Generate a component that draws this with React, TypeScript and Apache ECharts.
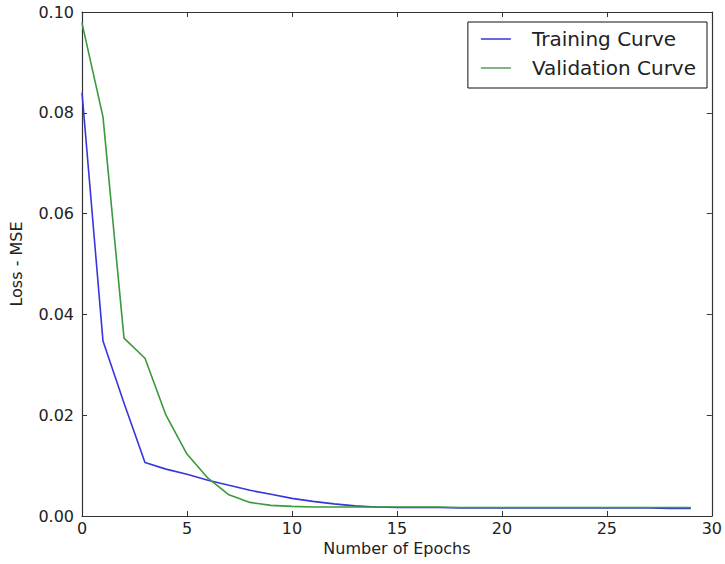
import React, { useEffect, useRef } from "react";
import * as echarts from "echarts";

const epochs = [0,1,2,3,4,5,6,7,8,9,10,11,12,13,14,15,16,17,18,19,20,21,22,23,24,25,26,27,28,29];
const trainingLoss = [0.0840,0.0347,0.0224,0.0106,0.0093,0.0083,0.0071,0.0061,0.0051,0.0043,0.0035,0.0029,0.0024,0.0020,0.0018,0.0017,0.0017,0.0017,0.0016,0.0016,0.0016,0.0016,0.0016,0.0016,0.0016,0.0016,0.0016,0.0016,0.0015,0.0015];
const validationLoss = [0.0978,0.0792,0.0353,0.0313,0.0200,0.0123,0.0075,0.0042,0.0027,0.0021,0.0019,0.0018,0.0018,0.0018,0.0018,0.0018,0.0018,0.0018,0.0017,0.0017,0.0017,0.0017,0.0017,0.0017,0.0017,0.0017,0.0017,0.0017,0.0017,0.0017];
const seriesNames = ["Training Curve", "Validation Curve"];
const xTicks = { min: 0, max: 30, interval: 5 };
const yTicks = { min: 0, max: 0.1, interval: 0.02 };

const FONT = "DejaVu Sans";
const TEXT = "#222";
const AXIS = "#333";

export default function App() {
  const ref = useRef<HTMLDivElement>(null);
  useEffect(() => {
    if (!ref.current) return;
    const chart = echarts.init(ref.current, undefined, { renderer: "svg" });
    const tick = { show: true, inside: true, length: 5, lineStyle: { color: AXIS, width: 1 } };
    const line = { show: true, onZero: false, lineStyle: { color: AXIS, width: 1.2 } };
    chart.setOption({
      animation: false,
      backgroundColor: "#fff",
      grid: { left: 79, right: 10, top: 12, bottom: 48, containLabel: false },
      legend: {
        data: seriesNames,
        orient: "vertical",
        right: 18,
        top: 22,
        icon: "rect",
        itemWidth: 30,
        itemHeight: 1.5,
        itemGap: 9,
        borderColor: "#111",
        borderWidth: 1,
        borderRadius: 0,
        padding: [7, 11, 10, 13],
        textStyle: { fontFamily: FONT, fontSize: 20, color: TEXT, padding: [0, 0, 0, 16] },
      },
      xAxis: [
        {
          type: "value",
          min: xTicks.min,
          max: xTicks.max,
          interval: xTicks.interval,
          name: "Number of Epochs",
          nameLocation: "middle",
          nameGap: 24,
          nameTextStyle: { fontFamily: FONT, fontSize: 16, color: TEXT },
          axisLine: line,
          axisTick: tick,
          axisLabel: { fontFamily: FONT, fontSize: 16, color: TEXT, margin: 4 },
          splitLine: { show: false },
        },
        {
          type: "value",
          position: "top",
          min: xTicks.min,
          max: xTicks.max,
          interval: xTicks.interval,
          axisLine: line,
          axisTick: tick,
          axisLabel: { show: false },
          splitLine: { show: false },
        },
      ],
      yAxis: [
        {
          type: "value",
          min: yTicks.min,
          max: yTicks.max,
          interval: yTicks.interval,
          name: "Loss - MSE",
          nameLocation: "middle",
          nameGap: 58,
          nameTextStyle: { fontFamily: FONT, fontSize: 16, color: TEXT },
          axisLine: line,
          axisTick: tick,
          axisLabel: {
            fontFamily: FONT,
            fontSize: 16,
            color: TEXT,
            margin: 8,
            formatter: (v: number) => v.toFixed(2),
          },
          splitLine: { show: false },
        },
        {
          type: "value",
          position: "right",
          min: yTicks.min,
          max: yTicks.max,
          interval: yTicks.interval,
          axisLine: line,
          axisTick: tick,
          axisLabel: { show: false },
          splitLine: { show: false },
        },
      ],
      series: [
        {
          name: seriesNames[0],
          type: "line",
          data: epochs.map((e, i) => [e, trainingLoss[i]]),
          showSymbol: false,
          symbol: "none",
          lineStyle: { color: "#3636dc", width: 1.6 },
          itemStyle: { color: "#3636dc" },
        },
        {
          name: seriesNames[1],
          type: "line",
          data: epochs.map((e, i) => [e, validationLoss[i]]),
          showSymbol: false,
          symbol: "none",
          lineStyle: { color: "#399a39", width: 1.6 },
          itemStyle: { color: "#5c9a5c" },
        },
      ],
    });
    return () => chart.dispose();
  }, []);
  return <div ref={ref} style={{ width: 725, height: 564, position: "fixed", left: 0, top: 0 }} />;
}
